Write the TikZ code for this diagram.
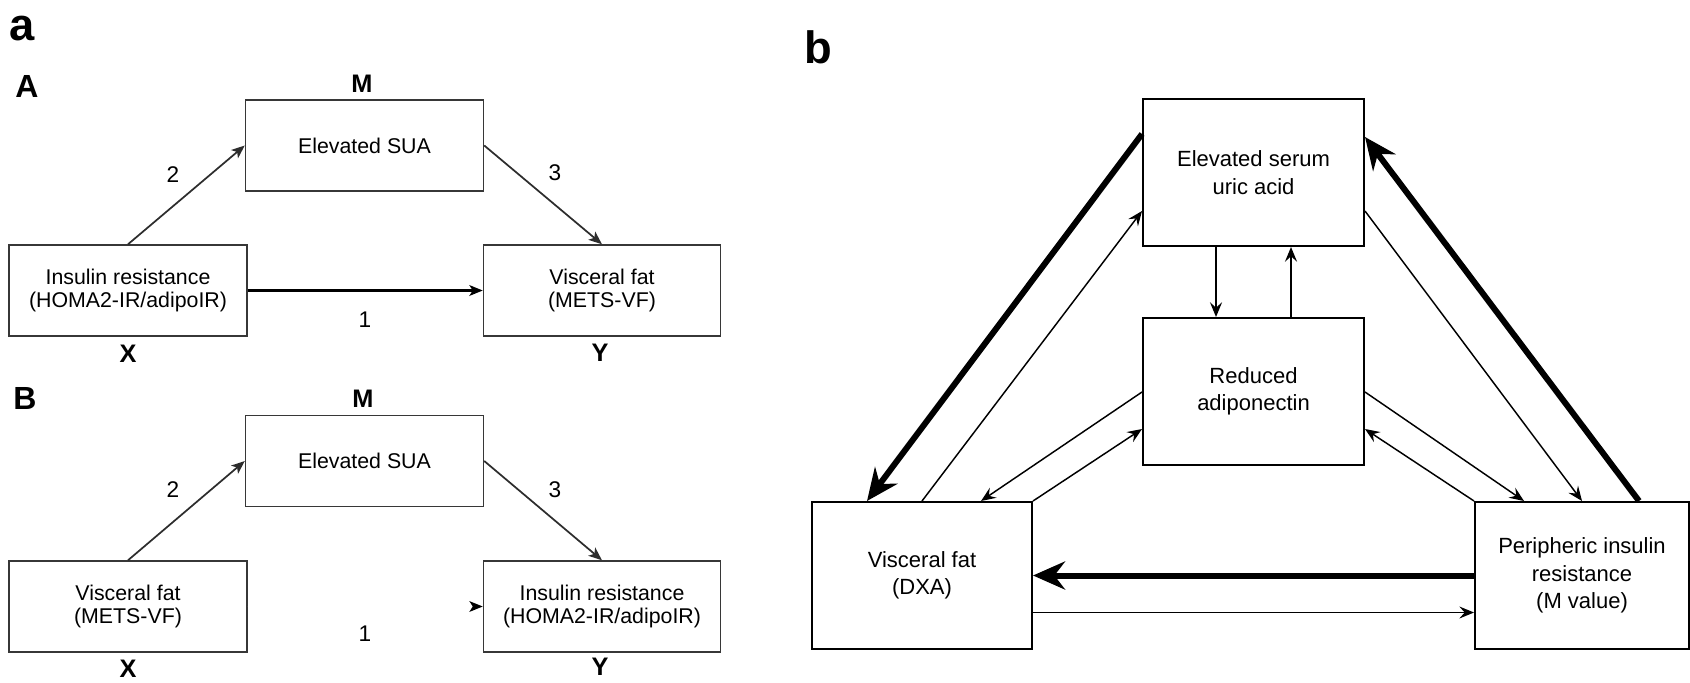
\documentclass[tikz,border=0pt]{standalone}
\usepackage{fontspec}
\setmainfont{Liberation Sans}
\usetikzlibrary{arrows.meta,calc}

\begin{document}
\begin{tikzpicture}[x=0.75pt,y=0.75pt,yscale=-1,xscale=1,
	boxa/.style={draw={rgb, 255:red, 55; green, 55; blue, 55 },line width=1.1pt,minimum width=178.5pt,minimum height=68.25pt,inner sep=0pt,align=center,font=\fontsize{16}{17.5}\selectfont},
	boxb/.style={draw=black,line width=1.5pt,minimum width=165.75pt,minimum height=110.25pt,inner sep=0pt,align=center,font=\fontsize{16.5}{20.5}\selectfont},
	med/.style={draw={rgb, 255:red, 45; green, 45; blue, 45 },line width=1.3pt,-{Stealth[length=10pt,width=8pt,inset=2.5pt]}},
	weak/.style={line width=1.1pt,-{Stealth[length=11pt,width=9pt,inset=4pt]}},
	strong/.style={line width=4.5pt,-{Stealth[length=24pt,width=21pt,inset=8pt]}},
	panel/.style={inner sep=0pt,font=\fontsize{34}{34}\selectfont\bfseries},
	sub/.style={inner sep=0pt,font=\fontsize{24}{24}\selectfont\bfseries},
	role/.style={inner sep=0pt,font=\fontsize{19}{19}\selectfont\bfseries},
	num/.style={inner sep=0pt,font=\fontsize{17}{17}\selectfont}]
	\useasboundingbox (0,0) rectangle (1690,682);

	% Panel a, model A
	\node [panel] (pa) at (22,29) {a};
	\node [sub] (la) at (27,86) {A};
	\node [boxa] (xa) at (128,290.5) {Insulin resistance\\(HOMA2-IR/adipoIR)};
	\node [boxa] (ma) at (364.5,145.5) {Elevated SUA};
	\node [boxa,minimum width=177.75pt] (ya) at (602,290.5) {Visceral fat\\(METS-VF)};
	\node [role] (rma) at (362,84) {M};
	\node [role] (rxa) at (128,354) {X};
	\node [role] (rya) at (600,353) {Y};
	\draw [med] (xa.north) -- (ma.west);
	\draw [med] (ma.east) -- (ya.north);
	\draw [med,line width=1.7pt,draw=black] (xa.east) -- (ya.west);
	\node [num] (na1) at (365,320) {1};
	\node [num] (na2) at (173,175) {2};
	\node [num] (na3) at (555,173) {3};

	% Panel a, model B
	\node [sub] (lb) at (25,398) {B};
	\node [boxa] (xb) at (128,606.5) {Visceral fat\\(METS-VF)};
	\node [boxa] (mb) at (364.5,461) {Elevated SUA};
	\node [boxa,minimum width=177.75pt] (yb) at (602,606.5) {Insulin resistance\\(HOMA2-IR/adipoIR)};
	\node [role] (rmb) at (363,399) {M};
	\node [role] (rxb) at (128,669) {X};
	\node [role] (ryb) at (600,667) {Y};
	\draw [med] (xb.north) -- (mb.west);
	\draw [med] (mb.east) -- (yb.north);
	\draw [med,draw=white,-{Stealth[length=10pt,width=8pt,inset=2.5pt,black]}] (xb.east) -- (yb.west);
	\node [num] (nb1) at (365,634) {1};
	\node [num] (nb2) at (173,490) {2};
	\node [num] (nb3) at (555,490) {3};

	% Panel b
	\node [panel] (pb) at (818,47) {b};
	\node [boxb] (sua) at (1253.5,172.5) {Elevated serum\\uric acid};
	\node [boxb] (adi) at (1253.5,391.5) {Reduced\\adiponectin};
	\node [boxb,minimum width=165pt] (vfb) at (922,575.5) {Visceral fat\\(DXA)};
	\node [boxb,minimum width=160.5pt] (pir) at (1582,575.5) {Peripheric insulin\\resistance\\(M value)};

	% thick paths
	\draw [strong] ($(sua.north west)+(0,36)$) -- ($(vfb.north west)+(56,0)$);
	\draw [strong] ($(pir.north west)+(165,0)$) -- ($(sua.north east)+(0,39)$);
	\draw [strong] (pir.west) -- (vfb.east);
	% thin paths
	\draw [weak] ($(vfb.north west)+(111,0)$) -- ($(sua.north west)+(0,113)$);
	\draw [weak,line width=1.4pt] ($(sua.south west)+(74,0)$) -- ($(adi.north west)+(74,0)$);
	\draw [weak,line width=1.4pt] ($(adi.north west)+(149,0)$) -- ($(sua.south west)+(149,0)$);
	\draw [weak] ($(adi.north west)+(0,75)$) -- ($(vfb.north west)+(170,0)$);
	\draw [weak] (vfb.north east) -- ($(adi.north west)+(0,112)$);
	\draw [weak] ($(adi.north east)+(0,75)$) -- ($(pir.north west)+(50,0)$);
	\draw [weak] (pir.north west) -- ($(adi.north east)+(0,112)$);
	\draw [weak] ($(sua.north east)+(0,113)$) -- ($(pir.north west)+(108,0)$);
	\draw [weak] ($(vfb.east)+(0,37)$) -- ($(pir.west)+(0,37)$);
\end{tikzpicture}
\end{document}
